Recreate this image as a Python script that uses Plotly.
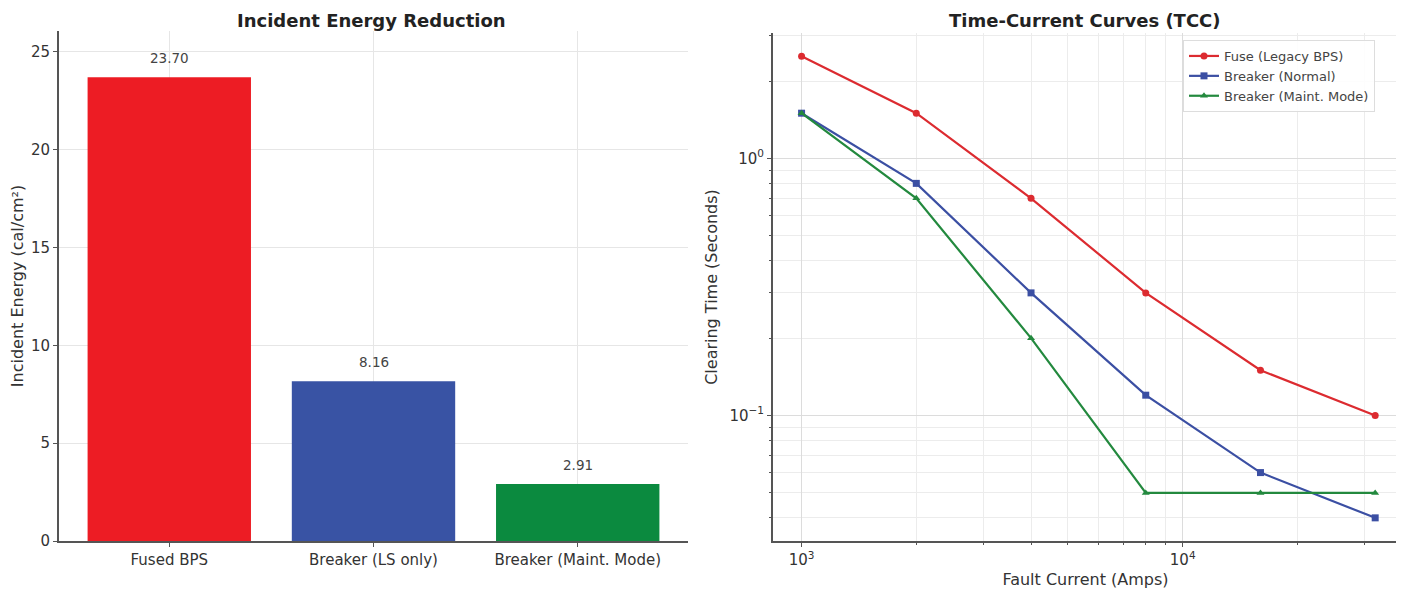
import plotly.graph_objects as go

# Left chart data
categories = ["Fused BPS", "Breaker (LS only)", "Breaker (Maint. Mode)"]
energy = [23.70, 8.16, 2.91]
bar_colors = ["#ED1C24", "#3953A4", "#0B8A3F"]

# Right chart data
fault_current = [1000, 2000, 4000, 8000, 16000, 32000]
fuse_time = [2.5, 1.5, 0.7, 0.3, 0.15, 0.10]
breaker_normal = [1.5, 0.8, 0.3, 0.12, 0.06, 0.04]
breaker_maint = [1.5, 0.7, 0.2, 0.05, 0.05, 0.05]
series_names = ["Fuse (Legacy BPS)", "Breaker (Normal)", "Breaker (Maint. Mode)"]
line_colors = ["#DC2B30", "#3B4FA3", "#23893E"]
markers = ["circle", "square", "triangle-up"]

OFF = 8  # page body margin
W, H = 1404 - OFF, 592 - OFF
def px_x(p):
    return (p - OFF) / W
def px_y(p):
    return 1 - (p - OFF) / H

fig = go.Figure()

fig.add_trace(go.Bar(
    x=categories, y=energy, marker=dict(color=bar_colors, line=dict(width=0)),
    width=0.8, showlegend=False, xaxis="x", yaxis="y", hoverinfo="x+y",
))

for name, vals, c, m in zip(series_names, [fuse_time, breaker_normal, breaker_maint], line_colors, markers):
    fig.add_trace(go.Scatter(
        x=fault_current, y=vals, mode="lines+markers", name=name,
        line=dict(color=c, width=2.2), marker=dict(symbol=m, size=7, color=c),
        xaxis="x2", yaxis="y2",
    ))

grid = "#e6e6e6"
spine = "#555555"
tickfont = dict(size=15, color="#333")
titlefont = dict(size=16, color="#333")

annotations = [
    dict(text="<b>Incident Energy Reduction</b>", x=px_x(372), y=1, xref="paper", yref="paper",
         showarrow=False, font=dict(size=18, color="#222"), xanchor="center", yanchor="top"),
    dict(text="<b>Time-Current Curves (TCC)</b>", x=px_x(1085), y=1, xref="paper", yref="paper",
         showarrow=False, font=dict(size=18, color="#222"), xanchor="center", yanchor="top"),
]
for cat, v in zip(categories, energy):
    annotations.append(dict(text=f"{v:.2f}", x=cat, y=v, xref="x", yref="y", showarrow=False,
                            yanchor="bottom", yshift=9, font=dict(size=13.5, color="#444")))

fig.update_layout(
    width=W, height=H,
    margin=dict(l=0, r=0, t=0, b=0),
    plot_bgcolor="white", paper_bgcolor="white",
    font=dict(family="DejaVu Sans, Open Sans, sans-serif", color="#333"),
    xaxis=dict(
        domain=[px_x(59), px_x(688)], range=[-0.54, 2.54],
        showgrid=True, gridcolor=grid, showline=True, linecolor=spine, linewidth=2,
        ticks="outside", ticklen=4, tickcolor=spine, tickfont=tickfont,
        anchor="y", automargin=False, zeroline=False,
    ),
    yaxis=dict(
        domain=[px_y(541), px_y(31)], range=[0, 26.07],
        tickvals=[0, 5, 10, 15, 20, 25],
        showgrid=True, gridcolor=grid, showline=True, linecolor=spine, linewidth=2,
        ticks="outside", ticklen=4, tickcolor=spine, tickfont=tickfont,
        title=dict(text="Incident Energy (cal/cm²)", font=titlefont, standoff=8),
        anchor="x", automargin=False, zeroline=False,
    ),
    xaxis2=dict(
        type="log", domain=[px_x(773), px_x(1398)], range=[2.925, 4.565],
        tickvals=[1000, 10000], ticktext=["10<sup>3</sup>", "10<sup>4</sup>"],
        showgrid=True, gridcolor="#dcdcdc", showline=True, linecolor=spine, linewidth=2,
        ticks="outside", ticklen=4, tickcolor=spine, tickfont=tickfont,
        minor=dict(tickvals=[2000, 3000, 4000, 5000, 6000, 7000, 8000, 9000, 20000, 30000],
                   showgrid=True, gridcolor="#ececec", ticks="outside", ticklen=2, tickcolor=spine),
        title=dict(text="Fault Current (Amps)", font=titlefont, standoff=6),
        anchor="y2", automargin=False, zeroline=False,
    ),
    yaxis2=dict(
        type="log", domain=[px_y(541), px_y(33)], range=[-1.488, 0.488],
        tickvals=[0.1, 1], ticktext=["10<sup>−1</sup>", "10<sup>0</sup>"],
        showgrid=True, gridcolor="#dcdcdc", showline=True, linecolor=spine, linewidth=2,
        ticks="outside", ticklen=4, tickcolor=spine, tickfont=tickfont,
        minor=dict(tickvals=[0.04, 0.05, 0.06, 0.07, 0.08, 0.09, 0.2, 0.3, 0.4, 0.5, 0.6, 0.7, 0.8, 0.9, 2, 3],
                   showgrid=True, gridcolor="#ececec", ticks="outside", ticklen=2, tickcolor=spine),
        title=dict(text="Clearing Time (Seconds)", font=titlefont, standoff=8),
        anchor="x2", automargin=False, zeroline=False,
    ),
    legend=dict(
        x=px_x(1183), y=px_y(40), xanchor="left", yanchor="top",
        bgcolor="rgba(255,255,255,0.9)", bordercolor="#dddddd", borderwidth=1,
        font=dict(size=13, color="#444"), tracegroupgap=0, itemwidth=30,
    ),
    annotations=annotations,
)

fig.write_html("out.html")
